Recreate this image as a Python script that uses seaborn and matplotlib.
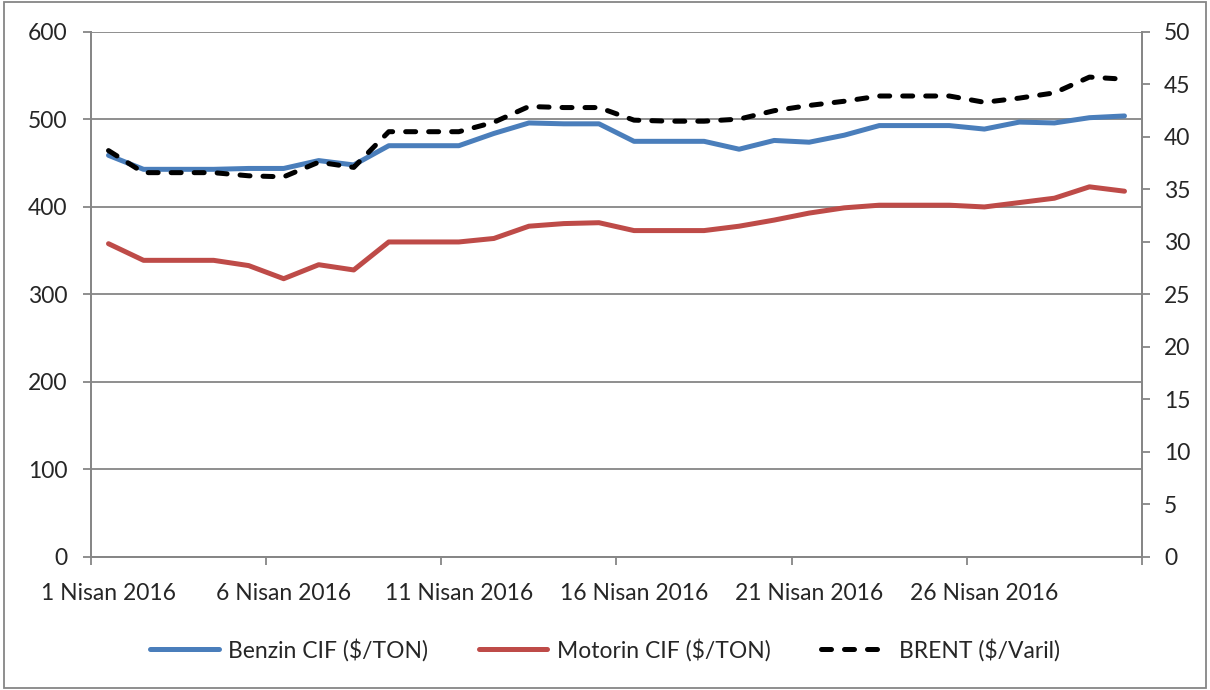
import matplotlib.pyplot as plt
import matplotlib.patches as mpatches
import pandas as pd
import seaborn as sns

sns.set_theme(style="white")
plt.rcParams["font.family"] = ["Lato", "DejaVu Sans"]

# ----- veriler (Nisan 2016, günlük) -----
gunler = list(range(1, 31))
benzin = [459, 443, 443, 443, 444, 444, 453, 448, 470, 470,
          470, 484, 496, 495, 495, 475, 475, 475, 466, 476,
          474, 482, 493, 493, 493, 489, 497, 496, 502, 504]
motorin = [358, 339, 339, 339, 333, 318, 334, 328, 360, 360,
           360, 364, 378, 381, 382, 373, 373, 373, 378, 385,
           393, 399, 402, 402, 402, 400, 405, 410, 423, 418]
brent = [38.7, 36.6, 36.6, 36.6, 36.3, 36.2, 37.6, 37.1, 40.5, 40.5,
         40.5, 41.4, 42.9, 42.8, 42.8, 41.6, 41.5, 41.5, 41.7, 42.5,
         43.0, 43.4, 43.9, 43.9, 43.9, 43.3, 43.7, 44.2, 45.7, 45.5]
etiket_gunleri = [1, 6, 11, 16, 21, 26]

df = pd.DataFrame({"gun": gunler, "benzin": benzin, "motorin": motorin, "brent": brent})

gri = "#868686"
mavi = "#4A7EBB"
kirmizi = "#BE4B48"
yazi = 16.5

fig = plt.figure(figsize=(12.1, 6.9), dpi=100)
ax = fig.add_axes([0.0752, 0.1928, 0.8686, 0.7609])
ax2 = ax.twinx()

sns.lineplot(data=df, x="gun", y="benzin", ax=ax, color=mavi, linewidth=3.6,
             label="Benzin CIF ($/TON)", legend=False, solid_capstyle="round")
sns.lineplot(data=df, x="gun", y="motorin", ax=ax, color=kirmizi, linewidth=3.6,
             label="Motorin CIF ($/TON)", legend=False, solid_capstyle="round")
sns.lineplot(data=df, x="gun", y="brent", ax=ax2, color="black", linewidth=3.6,
             label="BRENT ($/Varil)", legend=False, dashes=False)
ax2.lines[0].set_dashes((2, 2.6))
ax2.lines[0].set_dash_capstyle("round")

# eksenler
ax.set_xlim(0.5, 30.5)
ax.set_ylim(0, 600)
ax2.set_ylim(0, 50)
ax.set_yticks(range(0, 601, 100))
ax2.set_yticks(range(0, 51, 5))
ax.set_xticks([d - 0.5 for d in etiket_gunleri] + [30.5])
ax.set_xticklabels([])
ax.set_xticks(etiket_gunleri, minor=True)
ax.set_xticklabels([f"{d} Nisan 2016" for d in etiket_gunleri], minor=True)
ax.set_xlabel("")
ax.set_ylabel("")
ax2.set_ylabel("")

ax.yaxis.grid(True, color=gri, linewidth=1.3)
ax.set_axisbelow(True)
for a in (ax, ax2):
    for s in a.spines.values():
        s.set_color(gri)
        s.set_linewidth(1.3)
    a.spines["top"].set_visible(False)
ax.tick_params(axis="y", direction="out", length=6, width=1.3, color=gri,
               pad=11, labelsize=yazi, left=True)
ax2.tick_params(axis="y", direction="out", length=6, width=1.3, color=gri,
                pad=10, labelsize=yazi, right=True)
ax.tick_params(axis="x", which="major", direction="out", length=6, width=1.3,
               color=gri, bottom=True)
ax.tick_params(axis="x", which="minor", length=0, pad=19, labelsize=yazi)

# lejant
handles = ax.get_lines()[:2] + ax2.get_lines()[:1]
fig.legend(handles, [h.get_label() for h in handles], loc="center",
           bbox_to_anchor=(0.5, 0.058), ncol=3, frameon=False, fontsize=yazi,
           handlelength=3.0, handletextpad=0.4, columnspacing=2.2)

fig.patches.append(mpatches.Rectangle((0.003, 0.003), 0.994, 0.994,
                                      transform=fig.transFigure, fill=False,
                                      edgecolor=gri, linewidth=1.3))

fig.savefig("out.png", dpi=100)
